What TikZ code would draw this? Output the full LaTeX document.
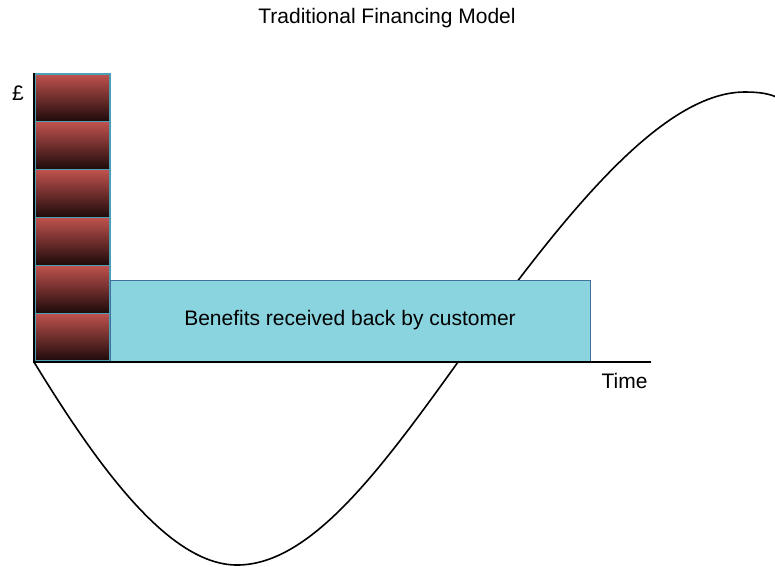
\documentclass[tikz,border=0pt]{standalone}
\usepackage{fontspec}
\setmainfont{Liberation Sans}
\definecolor{redtop}{RGB}{192,82,78}
\definecolor{redbot}{RGB}{28,10,10}
\definecolor{rededge}{RGB}{75,160,182}
\definecolor{benfill}{RGB}{138,212,224}
\definecolor{benedge}{RGB}{65,113,156}
\begin{document}
\begin{tikzpicture}[x=1pt,y=-1pt,
  cashbox/.style={draw=rededge,line width=1.2pt,top color=redtop,bottom color=redbot,
    minimum width=75pt,minimum height=47.8pt,inner sep=0pt,outer sep=0pt},
  benbox/.style={draw=benedge,line width=1pt,fill=benfill,minimum width=480pt,
    minimum height=81pt,inner sep=0pt,font=\fontsize{21}{25}\selectfont},
  lbl/.style={inner sep=0pt,anchor=base,font=\fontsize{21}{25}\selectfont},
  axisline/.style={line width=2pt,black},
  curveline/.style={line width=1.6pt,black}]
\useasboundingbox (0,0) rectangle (775,566);
% curve
\draw[curveline] (34,362) .. controls (100,470) and (170,565) .. (237,565)
  .. controls (310,565) and (379,472) .. (458,362)
  .. controls (560,220) and (660,92) .. (745,92)
  .. controls (760,92) and (770,94) .. (776,97);
% stacked boxes
\foreach \k in {0,...,5}{
  \node[cashbox] (c\k) at (72.5,{74+47.83*(\k+0.5)}) {};
}
\node[benbox] (ben) at (350,320.5) {Benefits received back by customer};
% axes
\coordinate (ytop) at (34,73);
\coordinate (o) at (34,362);
\coordinate (xend) at (651,362);
\draw[axisline] (ytop) -- (o) -- (xend);
% labels
\node[lbl] (title) at (387,23.3) {Traditional Financing Model};
\node[lbl] (pound) at (18,100.5) {£};
\node[lbl] (time) at (624.5,388) {Time};
\end{tikzpicture}
\end{document}
